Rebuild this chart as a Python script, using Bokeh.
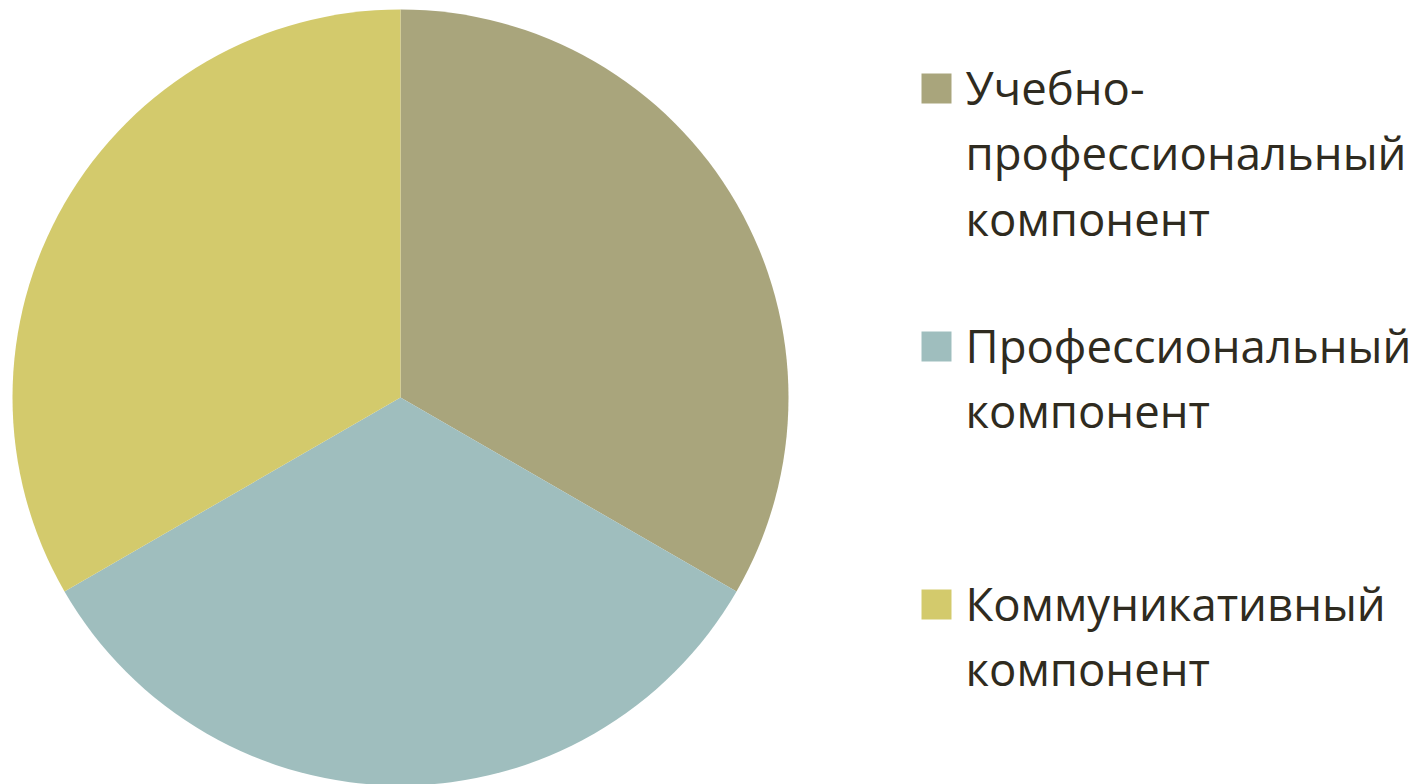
import numpy as np
from bokeh.plotting import figure
from bokeh.models import Range1d, ColumnDataSource
from bokeh.core.properties import value
from bokeh.embed import file_html
from bokeh.resources import INLINE

categories = ["Учебно-\nпрофессиональный\nкомпонент",
              "Профессиональный\nкомпонент",
              "Коммуникативный\nкомпонент"]
shares = [1, 1, 1]
colors = ["#A9A57C", "#9FBEBE", "#D3CA6C"]

W, H = 1419, 784
p = figure(width=W, height=H, output_backend="svg", toolbar_location=None,
           x_range=Range1d(0, W), y_range=Range1d(0, H), min_border=0)
p.axis.visible = False
p.grid.visible = False
p.outline_line_color = None
p.background_fill_color = "white"
p.border_fill_color = "white"

vals = np.array(shares, dtype=float)
frac = vals / vals.sum()
cum = np.concatenate([[0], np.cumsum(frac)])
start = np.pi / 2 - cum[1:] * 2 * np.pi
end = np.pi / 2 - cum[:-1] * 2 * np.pi

cx, cy, r = 400, H - 397, 388
src = ColumnDataSource(dict(start=start, end=end, color=colors))
p.wedge(x=cx, y=cy, radius=r, start_angle="start", end_angle="end",
        fill_color="color", line_color=None, source=src)

# legend
sq = 30
lx, top0, step, lh = 921, 73, 258, 65.5
for i, (lab, col) in enumerate(zip(categories, colors)):
    top = top0 + i * step
    p.rect(x=lx + sq / 2, y=H - (top + sq / 2), width=sq, height=sq,
           fill_color=col, line_color=None)
    for j, line in enumerate(lab.split("\n")):
        base = top + sq + j * lh - 17
        p.text(x=[965], y=[H - base], text=[line], text_font=value("Open Sans"),
               text_font_size="45.5px", text_color="#2F2B20",
               text_baseline="alphabetic", text_align="left")

open("out.html", "w").write(file_html(p, INLINE))
